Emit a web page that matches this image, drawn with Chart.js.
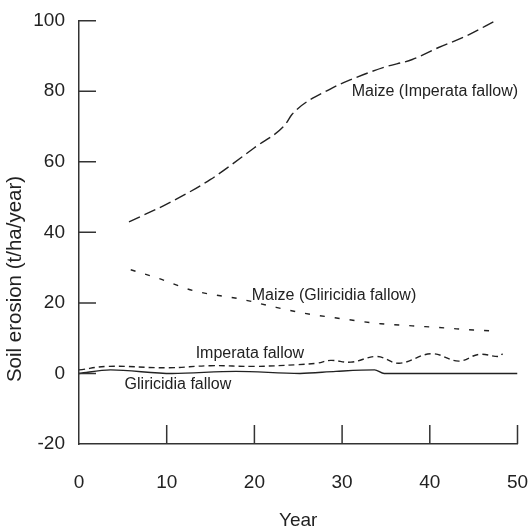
<!DOCTYPE html>
<html>
<head>
<meta charset="utf-8">
<script src="https://cdn.jsdelivr.net/npm/chart.js@4.4.1/dist/chart.umd.min.js"></script>
<style>
  html, body { margin: 0; padding: 0; background: #fff; }
  #wrap { width: 531px; height: 531px; }
</style>
</head>
<body>
<div id="wrap"><canvas id="c" width="531" height="531"></canvas></div>
<script>
// ---- Data ----
const maizeImperataYears = [5.7, 10, 15, 20, 23.5, 24.3, 28.7, 31, 34.8, 38, 41, 44, 47.5];
const maizeImperataVals  = [43, 48, 55, 64, 70.5, 73.5, 80.7, 83.3, 86.8, 89, 92.4, 95.5, 100];

const maizeGliricidiaYears = [5.9, 9, 13, 18.6, 22, 25.6, 30, 34.4, 38, 41.7, 45, 47.7];
const maizeGliricidiaVals  = [29.4, 27, 23.5, 21, 19, 17.1, 15.5, 14.1, 13.5, 12.9, 12.3, 12.0];

const imperataFallowYears = [0, 3.3, 10.2, 15, 20, 25, 27.1, 28.7, 31, 34, 36.5, 40.2, 43.3, 45.6, 47.9, 48.3];
const imperataFallowVals  = [1.0, 2.0, 1.6, 2.2, 2.0, 2.5, 2.9, 3.7, 3.2, 4.8, 2.9, 5.6, 3.5, 5.4, 4.8, 5.6];

const gliricidiaFallowYears = [0, 3.6, 10.6, 17.9, 25.2, 29.3, 33.7, 34.8, 50];
const gliricidiaFallowVals  = [0, 1.0, 0, 0.6, 0, 0.6, 1.0, 0, 0];

const xTicks = [0, 10, 20, 30, 40, 50];
const yTicks = [-20, 0, 20, 40, 60, 80, 100];

const seriesLabels = ['Maize (Imperata fallow)', 'Maize (Gliricidia fallow)', 'Imperata fallow', 'Gliricidia fallow'];
// label anchor positions in data units [year, value]
const labelYears = [31.1, 19.7, 13.3, 5.2];
const labelVals  = [80, 22.1, 5.6, -3.2];

const xTitle = 'Year';
const yTitle = 'Soil erosion (t/ha/year)';

// ---- Helpers ----
const toPts = (xs, ys) => xs.map((x, i) => ({ x: x, y: ys[i] }));
const INK = '#222';
const FONT = '"Liberation Sans", Arial, Helvetica, sans-serif';

const bgPlugin = {
  id: 'bg',
  beforeDraw(chart) {
    const ctx = chart.ctx;
    ctx.save();
    ctx.fillStyle = '#fff';
    ctx.fillRect(0, 0, chart.width, chart.height);
    ctx.restore();
  }
};

const decoPlugin = {
  id: 'deco',
  afterDraw(chart) {
    const ctx = chart.ctx;
    const xs = chart.scales.x, ys = chart.scales.y;
    const ca = chart.chartArea;
    ctx.save();
    // inward tick marks
    ctx.strokeStyle = '#333';
    ctx.lineWidth = 1.5;
    ctx.beginPath();
    yTicks.forEach(v => {
      if (v === yTicks[0]) return;
      const py = ys.getPixelForValue(v);
      ctx.moveTo(ca.left, py);
      ctx.lineTo(ca.left + 17, py);
    });
    xTicks.forEach(v => {
      if (v === xTicks[0]) return;
      const px = xs.getPixelForValue(v);
      ctx.moveTo(px, ca.bottom);
      ctx.lineTo(px, ca.bottom - 19);
    });
    ctx.stroke();

    // series labels
    ctx.fillStyle = INK;
    ctx.font = '16px ' + FONT;
    ctx.textAlign = 'left';
    ctx.textBaseline = 'middle';
    seriesLabels.forEach((t, i) => {
      ctx.fillText(t, xs.getPixelForValue(labelYears[i]), ys.getPixelForValue(labelVals[i]));
    });

    // axis titles
    ctx.font = '19px ' + FONT;
    ctx.textAlign = 'center';
    ctx.textBaseline = 'middle';
    ctx.fillText(xTitle, (ca.left + ca.right) / 2, 521);

    ctx.save();
    ctx.translate(20.5, 279);
    ctx.rotate(-Math.PI / 2);
    ctx.font = '20.5px ' + FONT;
    ctx.textBaseline = 'alphabetic';
    ctx.fillText(yTitle, 0, 0);
    ctx.restore();
    ctx.restore();
  }
};

const common = { borderColor: INK, borderWidth: 1.4, pointRadius: 0, fill: false };

new Chart(document.getElementById('c'), {
  type: 'line',
  data: {
    datasets: [
      Object.assign({ label: seriesLabels[0], data: toPts(maizeImperataYears, maizeImperataVals), borderDash: [12, 5], cubicInterpolationMode: 'monotone' }, common),
      Object.assign({ label: seriesLabels[1], data: toPts(maizeGliricidiaYears, maizeGliricidiaVals), borderDash: [5, 10], cubicInterpolationMode: 'monotone' }, common),
      Object.assign({ label: seriesLabels[2], data: toPts(imperataFallowYears, imperataFallowVals), borderDash: [6, 4], tension: 0.4 }, common),
      Object.assign({ label: seriesLabels[3], data: toPts(gliricidiaFallowYears, gliricidiaFallowVals), cubicInterpolationMode: 'monotone' }, common)
    ]
  },
  options: {
    responsive: false,
    animation: false,
    devicePixelRatio: 1,
    layout: { padding: { left: 0, right: 13.5, top: 20.7, bottom: 0 } },
    plugins: { legend: { display: false }, tooltip: { enabled: false } },
    scales: {
      x: {
        type: 'linear',
        min: 0, max: 50,
        afterBuildTicks: s => { s.ticks = xTicks.map(v => ({ value: v })); },
        afterFit: s => { s.height = 87; s.paddingLeft = 0; s.paddingRight = 0; },
        grid: { display: false, drawTicks: false },
        border: { display: true, color: '#333', width: 1.5 },
        ticks: { color: INK, font: { family: FONT, size: 19 }, padding: 27, maxRotation: 0 }
      },
      y: {
        type: 'linear',
        min: -20, max: 100,
        afterBuildTicks: s => { s.ticks = yTicks.map(v => ({ value: v })); },
        afterFit: s => { s.width = 79; s.paddingTop = 0; s.paddingBottom = 0; },
        grid: { display: false, drawTicks: false },
        border: { display: true, color: '#333', width: 1.5 },
        ticks: { color: INK, font: { family: FONT, size: 19 }, padding: 14 }
      }
    }
  },
  plugins: [bgPlugin, decoPlugin]
});
</script>
</body>
</html>
